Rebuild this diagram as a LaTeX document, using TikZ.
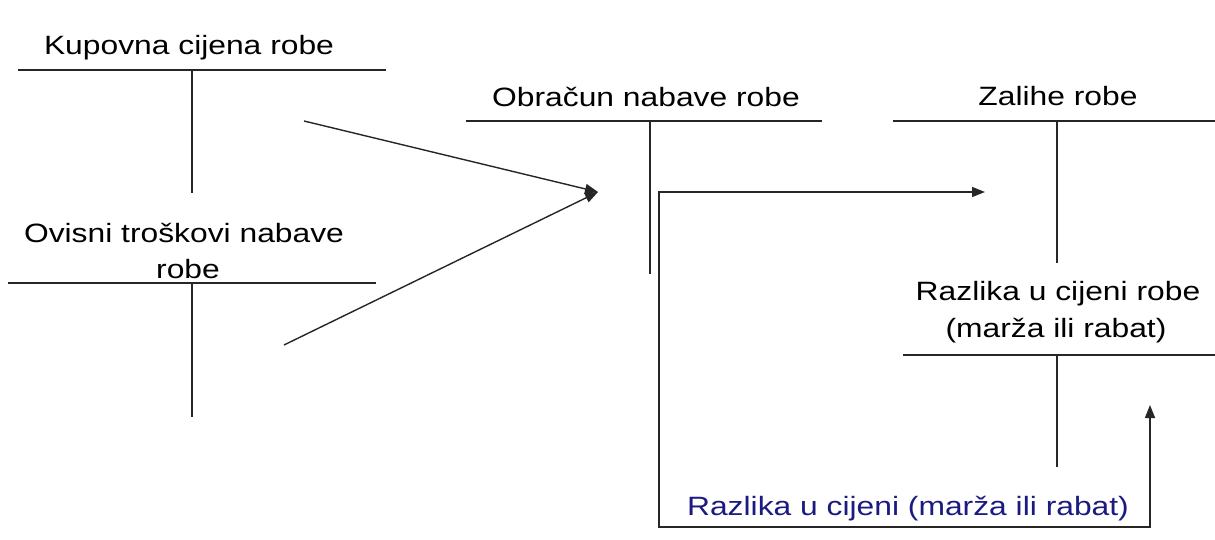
\documentclass[tikz,border=0pt]{standalone}
\usepackage{fontspec}
\setmainfont{Liberation Sans}[FakeStretch=1.2]
\usetikzlibrary{arrows.meta}
\definecolor{navy}{HTML}{1A1A80}
\begin{document}
\begin{tikzpicture}[x=1pt,y=-1pt,
  lbl/.style={anchor=base,inner sep=0pt,font=\fontsize{26.5}{36}\selectfont},
  acct/.style={line width=1.4pt,black!85},
  flow/.style={line width=1.4pt,black!85,-{Triangle[length=13pt,width=10pt]}}]
\useasboundingbox (0,0) rectangle (1215,540);
% texts
\node[lbl] (kup) at (189,55) {Kupovna cijena robe};
\node[lbl] (ovi1) at (184,242) {Ovisni troškovi nabave};
\node[lbl] (ovi2) at (188,278) {robe};
\node[lbl] (obr) at (646,107) {Obračun nabave robe};
\node[lbl] (zal) at (1058,106) {Zalihe robe};
\node[lbl] (raz1) at (1058,300) {Razlika u cijeni robe};
\node[lbl] (raz2) at (1056,337) {(marža ili rabat)};
\node[lbl,text=navy] (bot) at (908,515) {Razlika u cijeni (marža ili rabat)};
% T-accounts
\draw[acct] (18,70) -- (386,70) (192,70) -- (192,193);
\draw[acct] (8,283) -- (376,283) (192,283) -- (192,417);
\draw[acct] (466,121) -- (822,121) (650,121) -- (650,274);
\draw[acct] (893,121) -- (1215,121) (1057,121) -- (1057,263);
\draw[acct] (903,355) -- (1215,355) (1057,355) -- (1057,467);
% flows
\coordinate (tip1) at (598,192);
\coordinate (s1) at (304,121);
\coordinate (s2) at (284,345);
\coordinate (tip2) at (985,192);
\coordinate (c1) at (659,192);
\coordinate (c2) at (659,527);
\coordinate (c3) at (1150,527);
\coordinate (tip3) at (1150,405);
\draw[flow] (s1) -- (tip1);
\draw[flow] (s2) -- (tip1);
\draw[flow,{Triangle[length=13pt,width=10pt]}-{Triangle[length=13pt,width=10pt]}] (tip2) -- (c1) -- (c2) -- (c3) -- (tip3);
\end{tikzpicture}
\end{document}
